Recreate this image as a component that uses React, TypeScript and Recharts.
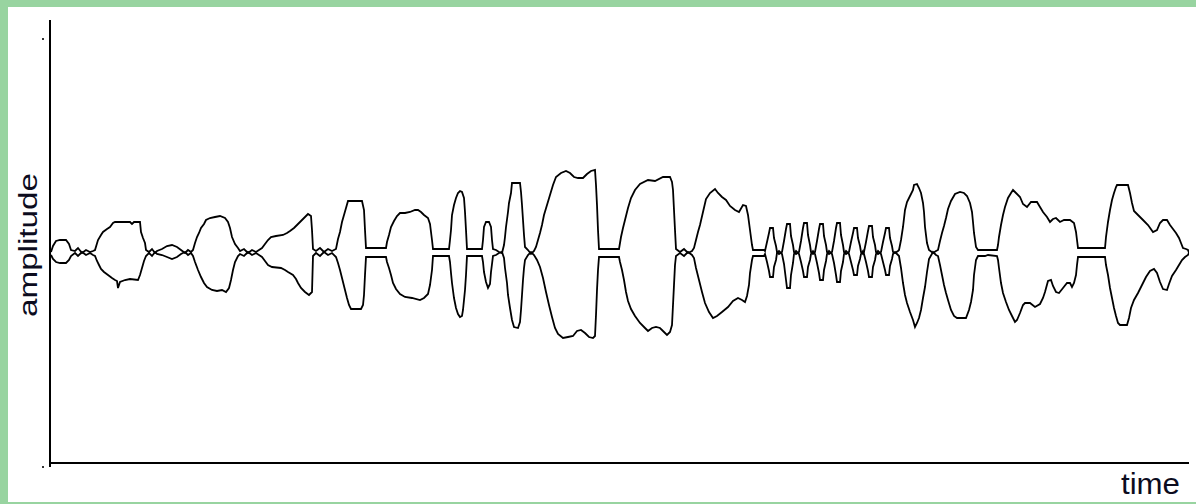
import React from 'react';
import { LineChart, Line, XAxis, YAxis, ReferenceLine } from 'recharts';

// time (arbitrary units from the start of the recording), amplitude (arbitrary units)
const upperEnvelope: [number, number][] = [
  [1,1],[3,7],[6,12],[10,13],[16,13],[19,9],[21,3],[25,2],[28,5],[32,0],[36,3],[40,1],[43,2],
  [45,3],[48,13],[51,18],[53,21],[57,24],[60,26],[63,30],[65,31],[80,31],[82,29],[84,31],[90,31],[91,21],[93,15],[95,10],[96,3],
  [99,1],[102,4],[105,0],[107,2],[112,4],[117,7],[122,8],[127,6],[131,3],[135,0],[138,3],[141,1],
  [143,3],[145,10],[147,16],[149,20],[151,25],[154,29],[156,33],[160,35],[165,36],[170,37],[175,35],[178,31],[180,25],[182,16],[185,9],[188,5],[190,2],
  [194,4],[198,0],[202,3],[206,1],[209,3],
  [212,5],[215,9],[218,13],[221,16],[226,17],[233,18],[237,20],[240,22],[244,25],[247,28],[250,31],[253,34],[256,37],[258,39],[261,37],[262,23],[263,4],
  [266,2],[270,5],[274,1],[278,4],[282,2],
  [286,4],[288,14],[290,21],[292,31],[294,38],[296,45],[298,52],[312,52],[314,43],[315,23],[316,5],[336,5],
  [337,11],[339,18],[341,26],[344,32],[347,37],[350,40],[355,40],[360,41],[365,43],[368,43],[371,41],[374,38],[378,35],[380,29],[382,13],[383,4],[399,4],
  [400,13],[401,23],[402,38],[404,48],[406,55],[408,60],[410,62],[412,61],[414,55],[415,41],[416,23],[417,4],[432,4],
  [433,13],[434,26],[436,31],[439,31],[441,26],[442,13],[443,4],[446,3],[449,1],[452,0],
  [454,8],[455,16],[456,26],[458,41],[459,50],[461,60],[462,70],[470,70],[471,61],[472,48],[473,33],[474,18],[475,6],[478,3],[481,-1],
  [484,2],[486,6],[488,13],[490,20],[492,28],[494,38],[497,48],[500,58],[503,68],[506,76],[511,80],[516,82],[520,80],[524,76],[528,75],[533,75],[537,79],[541,82],[545,83],[546,68],[547,48],[548,23],[549,4],[569,4],
  [570,10],[571,16],[573,25],[575,33],[578,45],[581,55],[585,63],[590,69],[598,73],[605,72],[613,76],[620,76],[622,71],[623,63],[624,43],[625,23],[626,4],
  [630,1],[634,4],[638,0],[642,2],
  [644,5],[646,13],[648,21],[650,28],[653,41],[656,54],[660,60],[665,64],[668,60],[672,56],[676,53],[680,47],[685,43],[689,41],[693,48],[696,47],[698,38],[700,23],[702,8],[703,3],[714,3],
  [715,2],[717,11],[719,20],[720,25],[723,25],[724,15],[726,7],[727,1],[729,-1],
  [732,1],[734,12],[736,24],[737,29],[740,29],[741,17],[743,8],[744,1],[746,-1],
  [749,1],[751,12],[753,25],[754,30],[757,30],[758,18],[760,8],[761,1],[763,-1],
  [765,1],[767,12],[769,24],[770,29],[773,29],[774,17],[776,8],[777,1],[779,-1],
  [782,1],[784,12],[786,25],[787,30],[790,30],[791,18],[793,8],[794,1],[796,-1],
  [799,1],[801,11],[803,20],[804,25],[807,25],[808,15],[810,7],[811,1],[813,-1],
  [814,1],[816,11],[818,22],[819,27],[822,27],[823,16],[825,8],[826,1],[828,-1],
  [831,1],[833,11],[835,20],[836,25],[839,25],[840,15],[842,7],[843,1],[845,0],[848,2],
  [849,3],[851,13],[853,26],[855,43],[857,51],[859,55],[861,59],[863,63],[864,68],[867,69],[869,65],[871,60],[873,50],[874,41],[875,26],[877,10],[879,3],[883,0],[886,2],
  [888,3],[890,12],[892,20],[894,27],[896,35],[898,44],[901,52],[905,59],[910,61],[914,60],[917,57],[920,50],[922,41],[923,31],[924,20],[926,6],[928,3],[947,3],
  [948,8],[949,16],[951,28],[953,38],[955,46],[958,55],[961,60],[963,63],[966,60],[970,56],[973,49],[977,46],[981,51],[987,51],[990,46],[993,41],[997,36],[1000,31],[1003,34],[1006,35],[1010,31],[1014,33],[1020,33],[1024,30],[1026,21],[1027,13],[1028,5],[1055,5],
  [1056,16],[1058,31],[1060,43],[1062,53],[1064,60],[1066,66],[1067,68],[1078,68],[1080,60],[1082,50],[1084,42],[1088,38],[1093,33],[1098,28],[1103,21],[1107,23],[1110,30],[1113,33],[1117,33],[1120,28],[1123,24],[1126,20],[1129,15],[1131,10],[1133,5],[1136,4],[1138,3],[1139,0],
];

const lowerEnvelope: [number, number][] = [
  [1,-2],[3,-6],[6,-9],[10,-10],[16,-10],[19,-7],[21,-3],[25,0],[28,-3],[32,1],[36,-2],[40,0],[43,-2],
  [45,-3],[47,-8],[49,-12],[51,-16],[54,-19],[58,-22],[62,-25],[65,-27],[67,-28],[68,-35],[70,-29],[75,-27],[80,-26],[88,-27],[90,-22],[92,-15],[94,-8],[96,-3],
  [99,0],[102,-3],[105,1],[107,-1],[112,-2],[117,-4],[122,-6],[127,-4],[131,-1],[135,1],[138,-2],[141,0],
  [143,-3],[145,-9],[148,-17],[151,-24],[154,-30],[157,-34],[162,-37],[167,-38],[172,-37],[176,-39],[179,-35],[181,-27],[183,-17],[185,-9],[188,-3],[190,-1],
  [194,-3],[198,1],[202,-2],[206,0],[209,-2],
  [212,-4],[215,-8],[218,-12],[222,-14],[231,-15],[235,-17],[238,-19],[243,-22],[246,-26],[248,-30],[251,-35],[255,-39],[259,-42],[262,-39],[263,-3],
  [266,0],[270,-3],[274,1],[278,-2],[282,0],
  [286,-4],[288,-10],[290,-17],[292,-25],[295,-37],[297,-45],[299,-52],[301,-56],[311,-56],[313,-52],[314,-42],[315,-22],[316,-4],[336,-4],
  [337,-9],[339,-15],[341,-22],[343,-30],[346,-36],[350,-41],[355,-44],[362,-45],[370,-47],[374,-45],[378,-41],[380,-32],[382,-17],[383,-3],[399,-3],
  [400,-9],[401,-20],[402,-30],[404,-45],[406,-55],[408,-61],[410,-64],[412,-63],[413,-57],[414,-47],[415,-37],[416,-22],[417,-3],[432,-3],
  [433,-9],[434,-19],[436,-29],[438,-35],[440,-31],[441,-19],[442,-11],[443,-3],[446,-2],[449,0],[452,1],
  [454,-5],[455,-15],[457,-30],[458,-42],[460,-55],[462,-67],[464,-74],[468,-75],[470,-69],[471,-57],[472,-42],[473,-27],[474,-15],[475,-7],[478,-2],[481,1],
  [484,-2],[487,-7],[490,-14],[493,-25],[496,-39],[499,-52],[502,-64],[505,-75],[508,-81],[513,-85],[518,-84],[523,-83],[527,-78],[531,-77],[535,-80],[539,-84],[543,-85],[545,-83],[546,-62],[547,-37],[548,-17],[549,-4],[569,-4],
  [570,-9],[572,-17],[574,-27],[576,-39],[578,-48],[581,-56],[585,-63],[590,-70],[595,-75],[598,-78],[602,-75],[606,-74],[610,-75],[614,-79],[617,-82],[620,-79],[622,-72],[623,-52],[624,-32],[625,-12],[626,-3],
  [630,0],[634,-3],[638,1],[642,-2],
  [644,-5],[646,-15],[649,-27],[652,-39],[655,-50],[659,-59],[663,-65],[667,-63],[672,-59],[678,-54],[683,-48],[688,-45],[692,-47],[695,-49],[697,-43],[699,-32],[700,-20],[702,-7],[703,-3],[714,-3],
  [715,-1],[717,-9],[719,-18],[720,-24],[723,-24],[724,-14],[726,-7],[727,0],[729,2],
  [732,-1],[734,-11],[736,-27],[737,-35],[740,-35],[741,-22],[743,-10],[744,-1],[746,2],
  [749,-1],[751,-9],[753,-18],[754,-24],[757,-24],[758,-14],[760,-7],[761,-1],[763,2],
  [765,-1],[767,-10],[769,-20],[770,-27],[773,-27],[774,-17],[776,-8],[777,-1],[779,2],
  [782,-1],[784,-10],[786,-22],[787,-29],[790,-29],[791,-18],[793,-9],[794,-1],[796,2],
  [799,-1],[801,-9],[803,-17],[804,-22],[807,-22],[808,-13],[810,-6],[811,-1],[813,2],
  [814,-1],[816,-9],[818,-18],[819,-24],[822,-24],[823,-14],[825,-7],[826,-1],[828,2],
  [831,-1],[833,-9],[835,-17],[836,-22],[839,-22],[840,-13],[842,-6],[843,-1],[845,1],[848,-2],
  [849,-3],[851,-15],[853,-30],[855,-42],[857,-50],[860,-59],[863,-67],[865,-74],[867,-70],[869,-65],[871,-57],[873,-45],[875,-34],[877,-19],[879,-6],[883,1],[886,-2],
  [888,-3],[890,-12],[892,-22],[894,-32],[896,-40],[898,-47],[901,-57],[904,-63],[907,-65],[916,-65],[919,-57],[921,-49],[923,-37],[924,-22],[926,-7],[928,-3],[935,-3],[938,-2],[947,-3],
  [948,-7],[949,-15],[951,-30],[953,-40],[956,-49],[959,-57],[962,-63],[965,-69],[967,-67],[970,-60],[973,-52],[975,-50],[980,-50],[985,-54],[990,-51],[993,-45],[995,-39],[998,-28],[1001,-27],[1003,-33],[1006,-39],[1009,-40],[1013,-35],[1017,-30],[1020,-30],[1022,-34],[1024,-30],[1026,-22],[1027,-12],[1028,-4],[1055,-4],
  [1056,-12],[1058,-22],[1060,-35],[1062,-45],[1064,-55],[1066,-63],[1068,-70],[1070,-72],[1077,-72],[1079,-65],[1081,-55],[1084,-47],[1088,-40],[1092,-32],[1096,-24],[1100,-18],[1104,-16],[1107,-20],[1110,-29],[1113,-36],[1117,-37],[1119,-31],[1122,-23],[1126,-17],[1129,-12],[1132,-7],[1135,-4],[1138,-2],[1139,0],
];

const yTickValues = [-214, 214];
const timeDomain: [number, number] = [0, 1139];
const ampDomain: [number, number] = [-214, 233];
const xAxisLevel = -210;
const yLabel = 'amplitude';
const xLabel = 'time';

const upperData = upperEnvelope.map(([t, v]) => ({ t, v }));
const lowerData = lowerEnvelope.map(([t, v]) => ({ t, v }));

const GREEN = '#98d4a0';
const INK = '#0c0c1e';

const DotTick = (props: any) => {
  const { x, y } = props;
  return <rect x={x} y={y - 1} width={2} height={2} fill="#333" />;
};

export default function App() {
  return (
    <div style={{ position: 'absolute', left: 0, top: 0, width: 1196, height: 504, background: GREEN, overflow: 'hidden' }}>
      <div style={{ position: 'absolute', left: 8, top: 7, width: 1188, height: 495, background: '#ffffff' }} />
      <div style={{ position: 'absolute', left: 0, top: 0 }}>
        <LineChart width={1196} height={504} margin={{ top: 20, right: 7, bottom: 37, left: 0 }}>
          <XAxis dataKey="t" type="number" domain={timeDomain} hide allowDataOverflow />
          <YAxis
            type="number"
            domain={ampDomain}
            width={50}
            ticks={yTickValues}
            tick={<DotTick />}
            tickLine={false}
            tickSize={6}
            tickMargin={2}
            axisLine={{ stroke: '#000', strokeWidth: 2 }}
            allowDataOverflow
          />
          <ReferenceLine y={xAxisLevel} stroke="#000" strokeWidth={2} />
          <Line data={upperData} dataKey="v" type="linear" stroke="#000" strokeWidth={1.8} dot={false} isAnimationActive={false} />
          <Line data={lowerData} dataKey="v" type="linear" stroke="#000" strokeWidth={1.8} dot={false} isAnimationActive={false} />
        </LineChart>
      </div>
      <svg style={{ position: 'absolute', left: 0, top: 0 }} width={1196} height={504}>
        <text
          transform="translate(37,245) rotate(-90)"
          textAnchor="middle"
          fontFamily="Liberation Sans, Arial, sans-serif"
          fontSize={25}
          textLength={144}
          lengthAdjust="spacingAndGlyphs"
          fill={INK}
        >
          {yLabel}
        </text>
        <text
          x={1121}
          y={494}
          fontFamily="Liberation Sans, Arial, sans-serif"
          fontSize={29}
          textLength={59}
          lengthAdjust="spacingAndGlyphs"
          fill={INK}
        >
          {xLabel}
        </text>
      </svg>
    </div>
  );
}
